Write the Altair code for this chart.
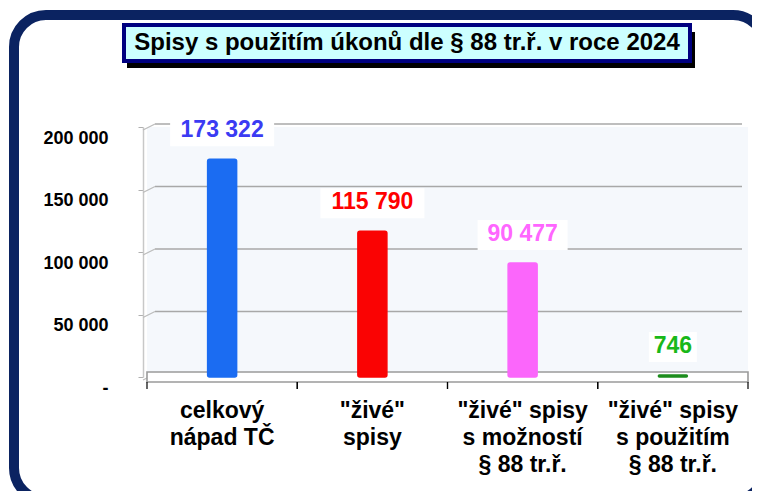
import altair as alt
import pandas as pd

# ---- data ----
categories = ['celkový\nnápad TČ', '"živé"\nspisy',
              '"živé" spisy\ns možností\n§ 88 tr.ř.', '"živé" spisy\ns použitím\n§ 88 tr.ř.']
values = [173322, 115790, 90477, 746]
bar_colors = ['#1b6cf2', '#fa0303', '#fb66fb', '#1d8c1d']
label_colors = ['#3b3bf3', '#ff0000', '#ff66ff', '#19b819']
y_ticks = [0, 50000, 100000, 150000, 200000]
title_text = 'Spisy s použitím úkonů dle § 88 tr.ř. v roce 2024'

FONT = 'Liberation Sans'

df = pd.DataFrame({
    'cat': categories,
    'value': values,
    'bar_color': bar_colors,
    'label_color': label_colors,
    'label': [f'{v:,}'.replace(',', ' ') for v in values],
})
ticks_df = pd.DataFrame({'v': y_ticks})
one = pd.DataFrame({'a': [0]})

xenc = alt.X('cat:N', sort=categories,
             scale=alt.Scale(paddingInner=0, paddingOuter=0),
             axis=alt.Axis(title=None, labelExpr="split(datum.label, '\\n')",
                           bandPosition=0.5, labelAlign='center', labelFlush=False,
                           labelBound=False, labelOverlap=False,
                           labelFont=FONT, labelFontWeight='bold', labelFontSize=23,
                           labelColor='black', labelLineHeight=27, labelPadding=33,
                           ticks=False, domain=False, labelAngle=0))
yscale = alt.Scale(domain=[0, 200000], nice=False)

# frame
frame = alt.Chart(one).mark_rect(fillOpacity=0, stroke='#0b2361', strokeWidth=10,
                                 cornerRadius=32).encode(
    x=alt.value(-133), x2=alt.value(618), y=alt.value(-112), y2=alt.value(373))

# title box
shadow = alt.Chart(one).mark_rect(fill='black').encode(
    x=alt.value(-20), x2=alt.value(548), y=alt.value(-95), y2=alt.value(-59))
tbox = alt.Chart(one).mark_rect(fill='#ccffff', stroke='#000080', strokeWidth=4).encode(
    x=alt.value(-23), x2=alt.value(543), y=alt.value(-102), y2=alt.value(-66))
ttext = alt.Chart(one).mark_text(text=title_text, font=FONT, fontWeight='bold',
                                 fontSize=24, color='black', baseline='middle').encode(
    x=alt.value(260), y=alt.value(-84))

# grid (back wall) + left wall stubs
grid = alt.Chart(ticks_df).mark_rule(color='#a8a8a8', strokeWidth=1.6, yOffset=-3).encode(
    y=alt.Y('v:Q', scale=yscale), x=alt.value(8), x2=alt.value(595))
stub = alt.Chart(ticks_df).mark_rule(color='#bdbdbd', strokeWidth=1.3,
                                     yOffset=3, y2Offset=-3).encode(
    y=alt.Y('v:Q', scale=yscale), y2='v:Q', x=alt.value(-4), x2=alt.value(8))

# floor
floor = alt.Chart(one).mark_rect(fill='white', stroke='#9a9a9a', strokeWidth=1.6,
                                 yOffset=5, y2Offset=-5).encode(
    y=alt.datum(0, scale=yscale), y2=alt.datum(0), x=alt.value(0), x2=alt.value('width'))

# x ticks at band boundaries
xt0 = alt.Chart(df).mark_rule(color='black', strokeWidth=1.2).encode(
    x=alt.X('cat:N', sort=categories, bandPosition=0), y=alt.value(255), y2=alt.value(262))
xt1 = alt.Chart(df).mark_rule(color='black', strokeWidth=1.2).encode(
    x=alt.X('cat:N', sort=categories, bandPosition=1), y=alt.value(255), y2=alt.value(262))

bars = alt.Chart(df).mark_bar(width=29, cornerRadius=2, yOffset=-1,
                              strokeWidth=1.5).encode(
    x=xenc,
    y=alt.Y('value:Q', scale=yscale,
            axis=alt.Axis(values=y_ticks, title=None, grid=False,
                          labelExpr="datum.value == 0 ? '-' : floor(datum.value/1000) + ' 000'",
                          domainColor='#c8c8c8', domainWidth=1.5, ticks=True,
                          tickColor='#b0b0b0', tickSize=5, offset=4, labelPadding=30,
                          labelOffset=11, labelFont=FONT, labelFontWeight='bold',
                          labelFontSize=18, labelColor='black')),
    y2=alt.datum(0),
    color=alt.Color('bar_color:N', scale=None),
    stroke=alt.Stroke('bar_color:N', scale=None),
)

boxes = alt.Chart(df).mark_bar(fill='white', yOffset=-44, y2Offset=-14,
                               width=alt.ExprRef('length(datum.label)*14+6')).encode(
    x=alt.X('cat:N', sort=categories),
    y=alt.Y('value:Q', scale=yscale), y2='value:Q')

labels = alt.Chart(df).mark_text(font=FONT, fontWeight='bold', fontSize=23,
                                 baseline='middle', dy=-30).encode(
    x=alt.X('cat:N', sort=categories),
    y=alt.Y('value:Q', scale=yscale),
    text='label:N',
    color=alt.Color('label_color:N', scale=None),
)

chart = alt.layer(frame, shadow, tbox, ttext, grid, stub, floor, xt0, xt1,
                  bars, boxes, labels).properties(
    width=601, height=250,
    autosize=alt.AutoSizeParams(type='none'),
    padding={'left': 139, 'top': 119, 'right': 4, 'bottom': 114},
    background='white',
).configure_view(fill='#f5f8fc', stroke=None)

chart.save('out.html', embed_options={'renderer': 'svg', 'actions': False})
